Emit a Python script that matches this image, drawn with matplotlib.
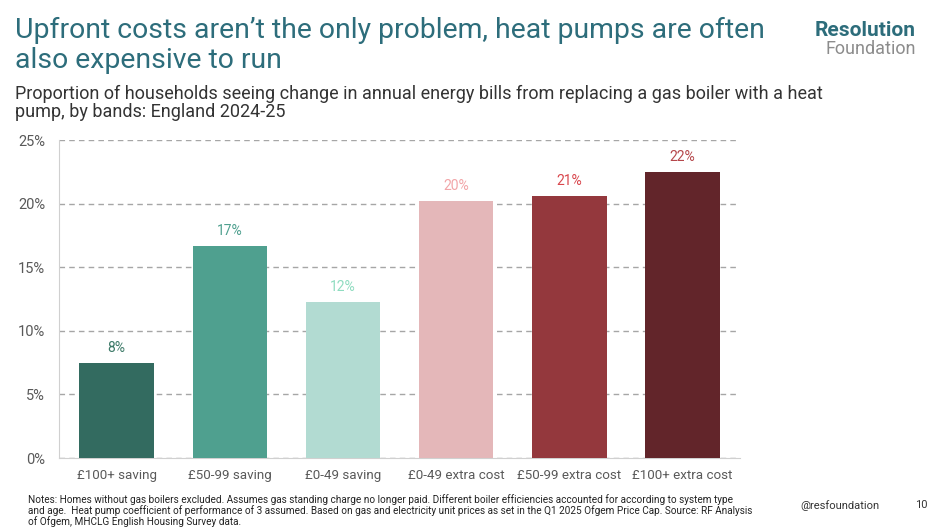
import matplotlib.pyplot as plt
from matplotlib import font_manager

# data
bands = ['£100+ saving', '£50-99 saving', '£0-49 saving',
         '£0-49 extra cost', '£50-99 extra cost', '£100+ extra cost']
shares = [7.5, 16.7, 12.3, 20.2, 20.6, 22.5]
labels = ['8%', '17%', '12%', '20%', '21%', '22%']

bar_colours = ['#336b60', '#4fa08f', '#b2dbd2', '#e4b7b9', '#94383d', '#62252a']
label_colours = ['#3d7a68', '#4fa08f', '#8fdcc0', '#f2a5a8', '#d9474d', '#b5474b']

names = {f.name for f in font_manager.fontManager.ttflist}
narrow = 'Liberation Sans Narrow' if 'Liberation Sans Narrow' in names else 'Roboto'
plt.rcParams['font.family'] = [narrow, 'DejaVu Sans']

fig = plt.figure(figsize=(9.4, 5.3), dpi=100)
ax = fig.add_axes([0.0628, 0.1358, 0.7245, 0.6])

x = range(len(bands))
ax.bar(x, shares, width=0.66, color=bar_colours, zorder=3)
for i in x:
    ax.text(i, shares[i] + 0.6, labels[i], ha='center', va='bottom',
            fontsize=10, color=label_colours[i])

ax.set_xlim(-0.51, 5.51)
ax.set_ylim(0, 25)
ax.set_yticks([0, 5, 10, 15, 20, 25])
ax.set_yticklabels([f'{v}%' for v in [0, 5, 10, 15, 20, 25]])
ax.set_xticks(list(x))
ax.set_xticklabels(bands)
ax.tick_params(length=0, labelsize=10.5, colors='#595959', pad=8)
ax.tick_params(axis='x', labelsize=9.6)
ax.tick_params(axis='y', pad=10)
ax.grid(axis='y', color='#a6a6a6', linestyle=(0, (4, 3)), linewidth=1, zorder=0)
for s in ['top', 'right']:
    ax.spines[s].set_visible(False)
for s in ['left', 'bottom']:
    ax.spines[s].set_color('#d0d0d0')

fig.text(0.016, 0.968, 'Upfront costs aren’t the only problem, heat pumps are often\nalso expensive to run',
         fontsize=20.4, color='#2d6d7b', va='top', ha='left', linespacing=1.13)
fig.text(0.016, 0.84, 'Proportion of households seeing change in annual energy bills from replacing a gas boiler with a heat\npump, by bands: England 2024-25',
         fontsize=13, color='#333333', va='top', ha='left', linespacing=1.0)

fig.text(0.974, 0.96, 'Resolution', fontsize=15, fontweight='bold', color='#2d6d7b',
         ha='right', va='top')
fig.text(0.974, 0.925, 'Foundation', fontsize=13, color='#8c8c8c', ha='right', va='top')

fig.text(0.03, 0.068, 'Notes: Homes without gas boilers excluded. Assumes gas standing charge no longer paid. Different boiler efficiencies accounted for according to system type\n'
         'and age.  Heat pump coefficient of performance of 3 assumed. Based on gas and electricity unit prices as set in the Q1 2025 Ofgem Price Cap. Source: RF Analysis\n'
         'of Ofgem, MHCLG English Housing Survey data.',
         fontsize=7.2, color='#222222', va='top', ha='left', linespacing=1.0)
fig.text(0.851, 0.047, '@resfoundation', fontsize=8, color='#333333', ha='left', va='center')
fig.text(0.973, 0.047, '10', fontsize=8, color='#333333', ha='left', va='center')

fig.savefig('out.png', dpi=100)
